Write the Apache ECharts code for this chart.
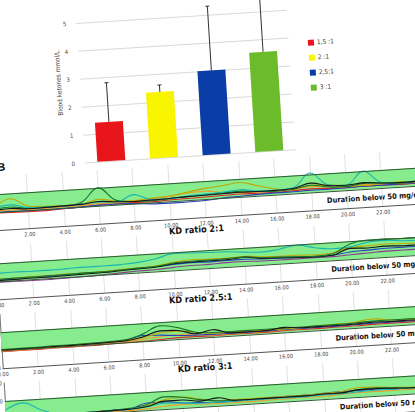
<!DOCTYPE html>
<html>
<head>
<meta charset="utf-8">
<script src="https://cdn.jsdelivr.net/npm/echarts@6/dist/echarts.min.js"></script>
<style>
html,body{margin:0;padding:0;background:#fff;overflow:hidden;width:415px;height:412px;}
#c{position:absolute;left:-30px;top:-40px;width:475px;height:492px;transform:rotate(-3.6deg);transform-origin:50% 50%;}
</style>
</head>
<body>
<div id="c"></div>
<script>
// ---- Panel A: blood ketones ----
const BAR_LABELS = ['1,5 :1', '2 :1', '2,5:1', '3 :1'];
const BAR_VALUES = [1.4, 2.35, 3.0, 3.55];
const BAR_ERR_TOP = [2.8, 2.6, 5.3, 5.8];
const BAR_COLORS = ['#e8151b', '#f9f400', '#0a3ea6', '#6cbb2a'];
const KETONE_MIN = 0, KETONE_MAX = 6, KETONE_STEP = 1;
const KETONE_TITLE = 'Blood ketones mmol/L';

// ---- Panel B: glucose traces (mg/dl), hourly ----
const HOURS = [0,1,2,3,4,5,6,7,8,9,10,11,12,13,14,15,16,17,18,19,20,21,22,23,24];
const HOUR_MIN = 0, HOUR_MAX = 24, HOUR_STEP = 2;
const GLU_MIN = 0, GLU_MAX = 150, GLU_STEP = 50;
const TARGET_LOW = 50, TARGET_HIGH = 100;
const PANEL_TITLES = ['', 'KD ratio 2:1', 'KD ratio 2.5:1', 'KD ratio 3:1'];
const DURATION_TEXTS = ['Duration below 50 mg/dl: 319', 'Duration below 50 mg/dl: 4', 'Duration below 50 mg/dl:', 'Duration below 50 mg/dl'];

// KD ratio 1.5:1
const r15_red    = [48,47,46,46,48,50,52,52,53,52,54,55,56,57,58,57,57,58,60,58,57,58,58,57,58];
const r15_blue   = [50,50,49,49,49,50,52,52,50,46,45,45,46,50,52,54,55,55,56,56,57,58,58,58,58];
const r15_orange = [52,54,52,52,53,54,56,56,58,60,64,70,72,66,62,60,60,62,66,62,60,62,62,60,60];
const r15_olive  = [60,85,62,58,57,58,68,60,58,62,65,72,80,84,90,78,66,62,70,68,62,60,62,64,62];
const r15_green  = [58,62,56,55,55,62,100,62,56,55,58,60,62,64,66,62,60,62,70,62,60,66,64,60,62];
const r15_cyan   = [62,68,58,56,56,58,60,58,75,58,58,62,64,66,70,64,62,66,104,68,64,100,66,62,64];
const r15_black  = [55,58,54,55,56,57,62,58,56,57,58,60,61,62,63,62,62,64,76,66,64,68,64,62,63];
// KD ratio 2:1
const r20_purple = [47,47,46,46,47,48,50,52,54,55,58,60,60,62,62,60,60,60,60,60,62,64,66,66,66];
const r20_blue   = [54,54,55,55,56,57,58,60,62,63,66,68,67,68,68,66,65,64,63,64,70,72,74,74,74];
const r20_olive  = [56,56,57,57,58,58,59,61,63,65,72,76,75,74,76,72,70,70,68,70,82,84,86,84,84];
const r20_black  = [52,52,53,53,54,55,56,58,60,62,68,70,70,70,74,68,66,64,62,64,80,78,80,78,78];
const r20_green  = [55,56,56,57,57,58,58,60,62,64,70,72,72,73,74,70,68,66,64,68,92,100,100,98,98];
const r20_cyan   = [72,73,72,72,73,74,74,75,78,85,96,95,93,92,88,85,90,98,88,82,84,94,96,92,90];
// KD ratio 2.5:1
const r25_red    = [46,46,46,47,47,47,48,49,50,52,54,54,53,54,54,54,55,55,55,56,56,57,57,57,57];
const r25_orange = [47,47,48,48,48,49,50,52,56,60,62,58,55,56,56,56,57,57,58,58,58,60,60,60,60];
const r25_blue   = [50,50,50,51,51,52,53,56,66,64,60,58,57,57,57,57,58,58,58,58,59,60,60,60,60];
const r25_olive  = [51,51,51,52,52,53,54,56,60,70,72,66,60,60,60,60,60,60,62,64,66,72,66,64,64];
const r25_black  = [50,50,50,51,51,52,53,54,62,76,74,62,70,58,58,58,64,60,60,60,61,63,62,62,62];
const r25_green  = [52,52,52,53,53,54,55,57,70,90,82,66,62,62,62,62,62,62,63,63,64,66,66,66,66];
// KD ratio 3:1
const r30_orange = [48,49,49,49,50,50,51,52,54,58,60,58,56,56,56,57,57,58,58,60,62,62,62,62,62];
const r30_blue   = [52,54,53,53,53,54,55,56,70,70,64,62,60,60,62,63,64,64,66,68,68,68,66,66,66];
const r30_olive  = [53,55,54,54,54,55,55,57,62,76,80,72,64,64,64,64,64,64,66,68,76,74,70,68,68];
const r30_black  = [52,53,53,53,53,54,55,56,60,72,72,66,72,62,62,62,62,62,64,64,70,70,68,66,66];
const r30_green  = [54,56,55,54,54,55,56,58,66,84,80,70,64,62,62,62,62,62,63,64,70,72,68,66,66];
const r30_cyan   = [75,92,70,55,54,54,55,56,60,66,64,60,60,60,60,60,60,60,62,62,64,66,66,66,66];

const TRACE_COLORS = {red:'#d9262a', blue:'#2a3fb8', orange:'#f29a2e', olive:'#bfa800', green:'#16752a', cyan:'#19b7b0', black:'#161616', purple:'#8a3d8c'};
const TRACES = [
  [0,'red',r15_red],[0,'blue',r15_blue],[0,'orange',r15_orange],[0,'olive',r15_olive],[0,'green',r15_green],[0,'cyan',r15_cyan],[0,'black',r15_black],
  [1,'purple',r20_purple],[1,'blue',r20_blue],[1,'olive',r20_olive],[1,'cyan',r20_cyan],[1,'black',r20_black],[1,'green',r20_green],
  [2,'red',r25_red],[2,'orange',r25_orange],[2,'blue',r25_blue],[2,'olive',r25_olive],[2,'green',r25_green],[2,'black',r25_black],
  [3,'orange',r30_orange],[3,'blue',r30_blue],[3,'olive',r30_olive],[3,'green',r30_green],[3,'cyan',r30_cyan],[3,'black',r30_black]
];

const FONT = "'Liberation Sans Narrow','DejaVu Sans Condensed','Liberation Sans',sans-serif";
const chart = echarts.init(document.getElementById('c'), null, {renderer:'svg'});

const grids = [{left:118, right:146, top:27, height:168}];
const xAxes = [{gridIndex:0, type:'category', data:BAR_LABELS, axisLine:{show:false}, axisTick:{show:false}, axisLabel:{show:false}}];
const yAxes = [{gridIndex:0, type:'value', min:KETONE_MIN, max:KETONE_MAX, interval:KETONE_STEP,
  axisLine:{show:false}, axisTick:{show:false},
  axisLabel:{fontSize:6, color:'#444', margin:10, fontFamily:FONT},
  splitLine:{lineStyle:{color:'#d9d9d9', width:1}}}];

const series = [];
BAR_LABELS.forEach((name, i) => {
  series.push({type:'bar', name:name, xAxisIndex:0, yAxisIndex:0, barWidth:28, barGap:'-100%',
    itemStyle:{color:BAR_COLORS[i]},
    data:BAR_VALUES.map((v, j) => j === i ? v : '-')});
});
series.push({type:'custom', xAxisIndex:0, yAxisIndex:0, clip:false, z:5,
  data:BAR_VALUES.map((v, i) => [i, v, BAR_ERR_TOP[i]]),
  renderItem:function(params, api){
    const b = api.coord([api.value(0), api.value(1)]);
    const t = api.coord([api.value(0), api.value(2)]);
    return {type:'group', children:[
      {type:'line', shape:{x1:b[0], y1:b[1], x2:t[0], y2:t[1]}, style:{stroke:'#222', lineWidth:0.9}},
      {type:'line', shape:{x1:t[0]-2, y1:t[1], x2:t[0]+2, y2:t[1]}, style:{stroke:'#222', lineWidth:0.9}}
    ]};
  }});

const graphics = [
  {type:'text', x:34, y:194, style:{text:'B', fontSize:11, fontWeight:'bold', fill:'#000', fontFamily:"'Liberation Sans',sans-serif", align:'center', verticalAlign:'middle'}},
  {type:'text', x:97, y:114, rotation:Math.PI/2, style:{text:KETONE_TITLE, fontSize:6.5, fill:'#444', fontFamily:FONT, align:'center', verticalAlign:'middle'}}
];

for (let k = 0; k < 4; k++) {
  const top = 203 + 69 * k;
  grids.push({left:23, right:27, top:top, height:54});
  xAxes.push({gridIndex:k+1, type:'value', min:HOUR_MIN, max:HOUR_MAX, interval:HOUR_STEP,
    axisLine:{lineStyle:{color:'#555', width:1}}, axisTick:{show:false},
    axisLabel:{fontSize:5.5, color:'#444', margin:3, fontFamily:FONT, showMaxLabel:false, formatter:v => v + '.00'},
    splitLine:{show:true, lineStyle:{color:'#dadada', width:0.8}}});
  yAxes.push({gridIndex:k+1, type:'value', min:GLU_MIN, max:GLU_MAX, interval:GLU_STEP,
    axisLine:{show:true, lineStyle:{color:'#777', width:1}}, axisTick:{show:false},
    axisLabel:{fontSize:5.5, color:'#444', margin:2, fontFamily:FONT}, splitLine:{show:false}});
  series.push({type:'line', xAxisIndex:k+1, yAxisIndex:k+1, data:[], silent:true,
    markArea:{silent:true, itemStyle:{color:'#86ec8e'}, data:[[{yAxis:TARGET_LOW}, {yAxis:TARGET_HIGH}]]},
    markLine:{silent:true, symbol:'none', label:{show:false}, lineStyle:{color:'#2f5a33', width:1, type:'solid'},
      data:[{yAxis:TARGET_HIGH}, {yAxis:TARGET_LOW}]}});
  if (PANEL_TITLES[k]) {
    graphics.push({type:'text', x:225, y:top - 3, style:{text:PANEL_TITLES[k], fontSize:9, fontWeight:'bold', fill:'#111', fontFamily:FONT, align:'center', verticalAlign:'middle'}});
  }
  graphics.push({type:'text', x:357, y:top + 45, style:{text:DURATION_TEXTS[k], fontSize:7.5, fontWeight:'bold', fill:'#111', fontFamily:FONT, align:'left', verticalAlign:'middle'}});
}

TRACES.forEach(([p, col, vals]) => {
  series.push({type:'line', xAxisIndex:p+1, yAxisIndex:p+1, smooth:0.4, showSymbol:false, silent:true,
    lineStyle:{color:TRACE_COLORS[col], width:1.1},
    data:HOURS.map((h, i) => [h, vals[i]])});
});

chart.setOption({
  animation:false,
  backgroundColor:'#fff',
  grid:grids, xAxis:xAxes, yAxis:yAxes,
  legend:{data:BAR_LABELS, orient:'vertical', left:343, top:81, itemWidth:6, itemHeight:6, itemGap:8, icon:'rect',
    textStyle:{fontSize:6.5, color:'#333', fontFamily:FONT, padding:[0,0,0,-2]}},
  graphic:graphics,
  series:series
});
</script>
</body>
</html>
